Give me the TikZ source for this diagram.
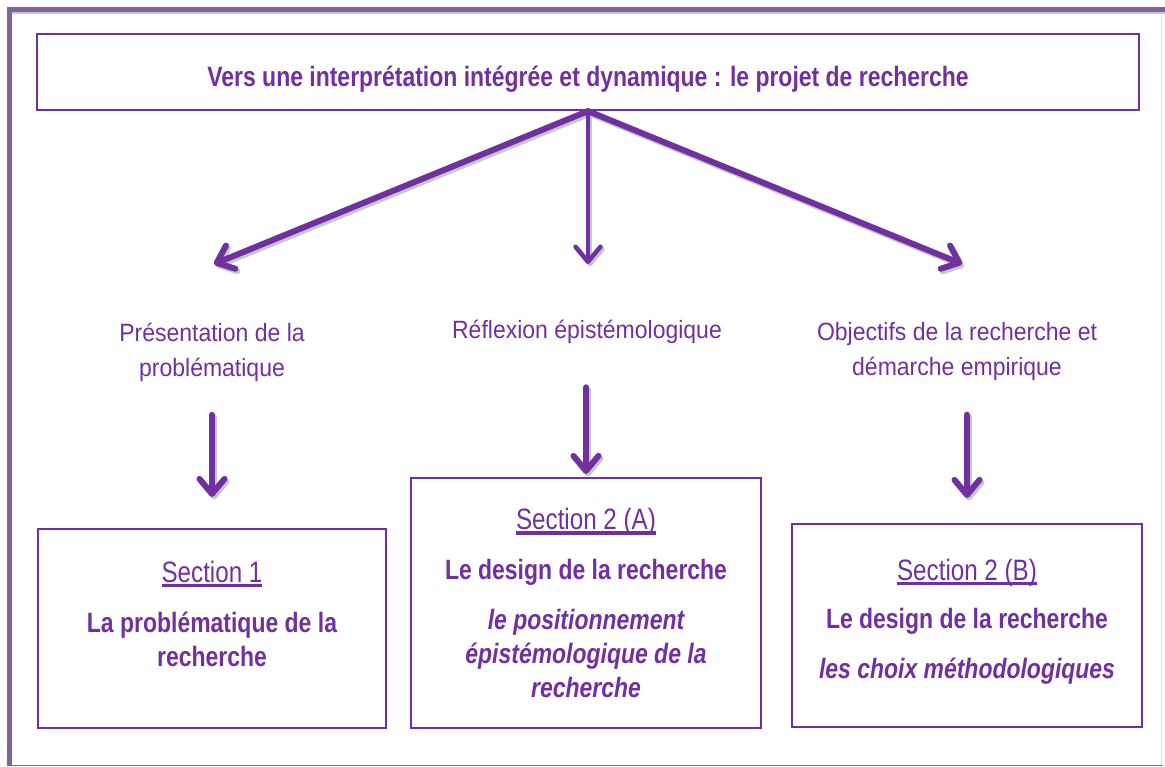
\documentclass[tikz,border=0pt]{standalone}
\usepackage{fontspec}
\setmainfont{Liberation Sans}[FakeStretch=0.92]
\newfontfamily\narrowfont[FakeStretch=0.82]{Liberation Sans}
\usetikzlibrary{arrows.meta, positioning, calc}
\definecolor{projpurple}{HTML}{7030A0}
\definecolor{framepurple}{HTML}{8064A2}
\newcommand{\sectitle}[1]{{\mdseries\fontsize{29.5}{34}\selectfont\setbox0\hbox{#1}\rlap{\rule[-5pt]{\wd0}{3.6pt}}\box0}}
\tikzset{
  sectbox/.style={draw=projpurple, line width=2.2pt, align=center, text=projpurple, font=\narrowfont\fontsize{28}{34}\selectfont\bfseries},
  steplabel/.style={text=projpurple, align=center, font=\fontsize{25}{35}\selectfont},
  purplearrow/.style={-{Straight Barb[length=15pt,width=25pt,round]}, line width=6pt, draw=projpurple, line cap=round},
  arrowshadow/.style={purplearrow, draw=black!22, transform canvas={xshift=2pt, yshift=-2.5pt}}
}
\begin{document}
\begin{tikzpicture}[x=1pt, y=-1pt]
\useasboundingbox (0,0) rectangle (1165,767);
\draw[black!12, line width=1pt] (1161,12) -- (1161,765);
\draw[framepurple, line width=1.6pt] (9,765.5) -- (1163,765.5);
\draw[black!22, line width=2pt] (12,13.5) -- (1165,13.5);
\draw[framepurple, line width=4.5pt] (9.5,766) -- (9.5,9.5) -- (1165,9.5);
\node[sectbox, minimum width=1102, minimum height=76, text height=32pt, text depth=2pt] (proj) at (588,72) {Vers une interprétation intégrée et dynamique : le projet de recherche};
\node[steplabel] (prob) at (212,352) {Présentation de la\\problématique};
\node[steplabel] (epist) at (587,332) {Réflexion épistémologique};
\node[steplabel] (obj) at (957,352) {Objectifs de la recherche et\\démarche empirique};
\node[sectbox, minimum width=348, minimum height=199, text depth=30pt] (sec1) at (212,628.5) {\sectitle{Section 1}\\[16pt]La problématique de la\\recherche};
\node[sectbox, minimum width=350, minimum height=250, text depth=-4pt] (sec2a) at (586,603) {\sectitle{Section 2 (A)}\\[16pt]Le design de la recherche\\[16pt]\itshape le positionnement\\\itshape épistémologique de la\\\itshape recherche};
\node[sectbox, minimum width=350, minimum height=203, text depth=14pt] (sec2b) at (967,625.5) {\sectitle{Section 2 (B)}\\[14pt]Le design de la recherche\\[16pt]\itshape les choix méthodologiques};
\coordinate (tipL) at (214,264);
\coordinate (tipC) at (588,264);
\coordinate (tipR) at (962,264);
\foreach \sty in {arrowshadow, purplearrow} {
  \draw[\sty] (proj.south) -- (tipL);
  \draw[\sty, line width=4.5pt] (proj.south) -- (tipC);
  \draw[\sty] (proj.south) -- (tipR);
  \draw[\sty] ([yshift=-30pt]prob.south -| sec1.north) -- ([yshift=31pt]sec1.north);
  \draw[\sty] ([yshift=-40pt]epist.south -| sec2a.north) -- ([yshift=3pt]sec2a.north);
  \draw[\sty] ([yshift=-30pt]obj.south -| sec2b.north) -- ([yshift=25pt]sec2b.north);
}
\end{tikzpicture}
\end{document}
